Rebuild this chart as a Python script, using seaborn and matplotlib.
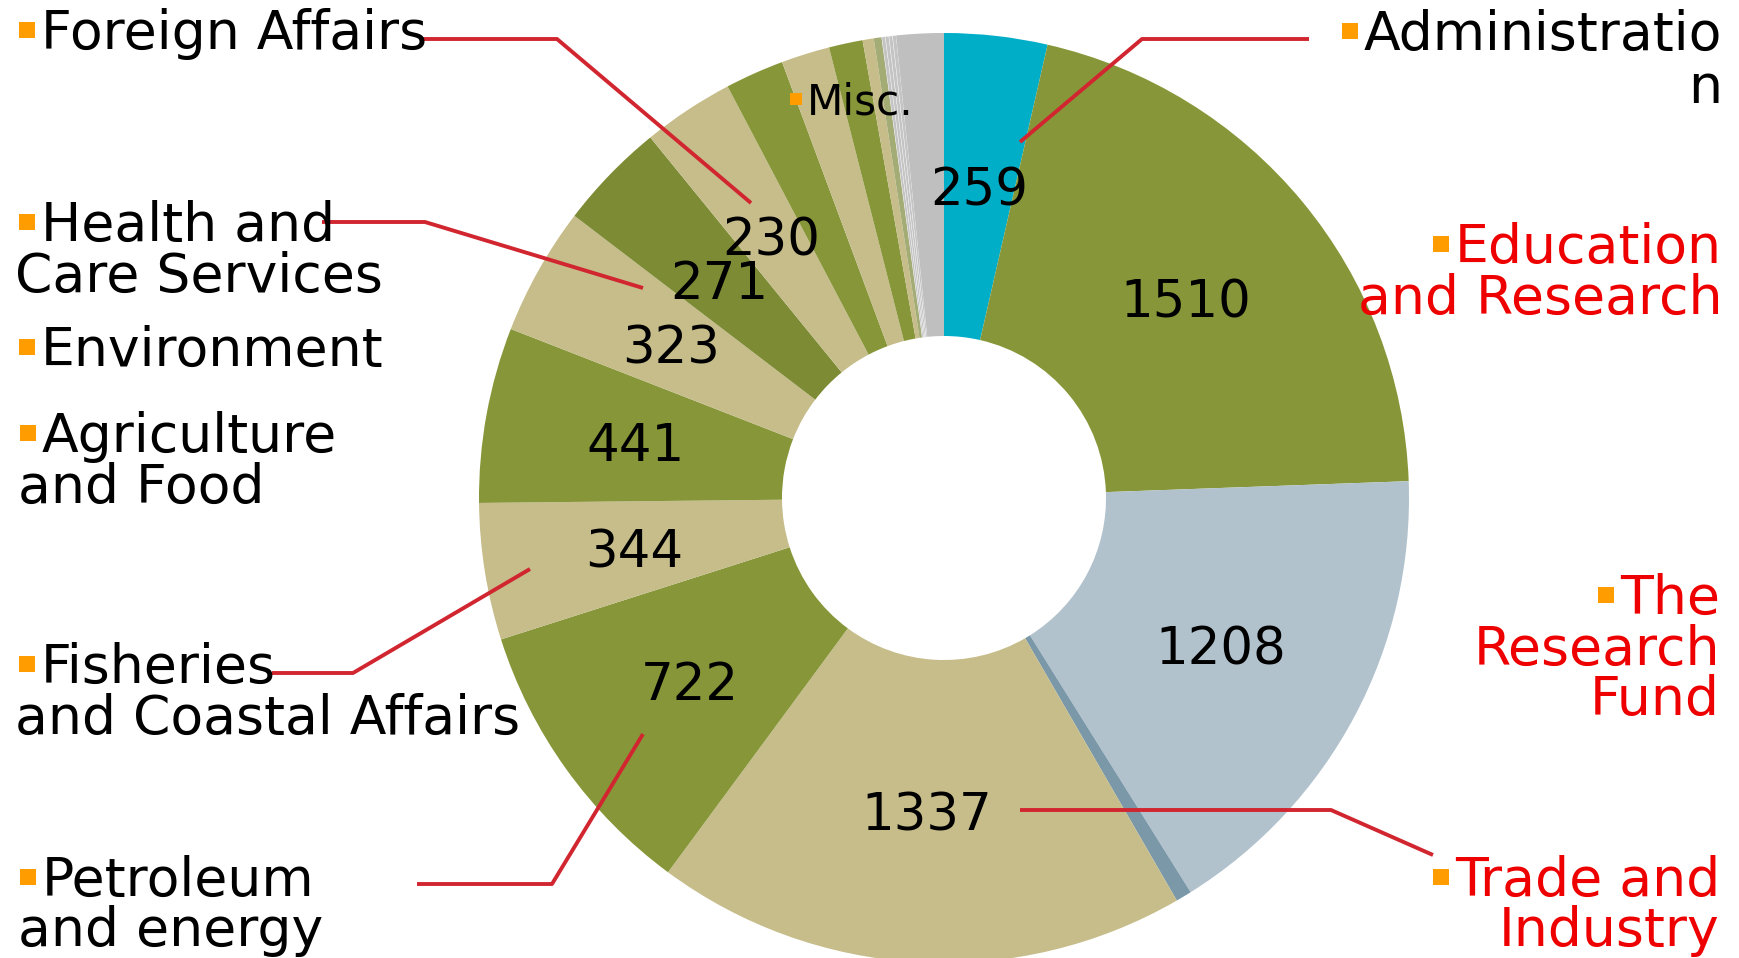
import matplotlib
matplotlib.use("Agg")
import matplotlib.pyplot as plt
import seaborn as sns

# slices, clockwise from 12 o'clock
values = [259, 1510, 1208, 40, 1337, 722, 344, 441, 323, 271, 230,
          148, 122, 85, 28, 20, 9, 9, 9, 9, 119]
value_labels = ["259", "1510", "1208", "", "1337", "722", "344", "441", "323", "271", "230",
                "", "", "", "", "", "", "", "", "", ""]
slice_colors = ["#00aec8", "#879638", "#b1c2cd", "#7b98a9", "#c6bd8a", "#879638", "#c6bd8a",
                "#879638", "#c6bd8a", "#7c8b34", "#c6bd8a", "#879638", "#c6bd8a", "#879638",
                "#c6bd8a", "#a4ac76", "#c4c4c4", "#c4c4c4", "#c4c4c4", "#c4c4c4", "#bfbfbf"]

W, H = 1739, 958
LEADER = "#d12630"
RED = "#ee0000"
BULLET = "#ff9c00"

sns.set_theme(style="white")
plt.rcParams['font.family'] = ['DejaVu Sans']

fig = plt.figure(figsize=(W / 100, H / 100), dpi=100)
ax = fig.add_axes([0, 0, 1, 1])

cx, cy, r_out, r_in = 944, H - 498, 465, 162
wedges, texts = ax.pie(values, colors=slice_colors, labels=value_labels,
                       startangle=90, counterclock=False,
                       radius=r_out, center=(cx, cy),
                       labeldistance=(r_out + r_in) / 2 / r_out,
                       wedgeprops=dict(width=r_out - r_in, linewidth=0),
                       textprops=dict(fontsize=37, color="black"))
for t in texts:
    t.set_ha("center")
    t.set_va("center_baseline")
for w in wedges[16:20]:
    w.set_edgecolor("#f4f4f4")
    w.set_linewidth(0.3)

ax.set_xlim(0, W)
ax.set_ylim(0, H)
ax.set_aspect("equal")
ax.axis("off")

# leader lines (pixel coords, y from top)
leaders = [
    [(421, 39), (557, 39), (751, 203)],      # Foreign Affairs
    [(1309, 39), (1142, 39), (1020, 142)],   # Administration
    [(322, 222), (425, 222), (643, 288)],    # Health and Care Services
    [(272, 673), (353, 673), (530, 569)],    # Fisheries and Coastal Affairs
    [(417, 884), (552, 884), (643, 734)],    # Petroleum and energy
    [(1020, 810), (1331, 810), (1433, 855)], # Trade and Industry
]
for pts in leaders:
    ax.plot([p[0] for p in pts], [H - p[1] for p in pts], color=LEADER, lw=2.8,
            solid_capstyle="butt")

# category labels: lines as (text, x, baseline y from top), alignment, colour, size
FS = 38.6
labels = [
    ([("Foreign Affairs", 41, 49)], "left", "black", FS),
    ([("Health and", 41, 241), ("Care Services", 15, 292)], "left", "black", FS),
    ([("Environment", 41, 366)], "left", "black", FS),
    ([("Agriculture", 42, 452), ("and Food", 18, 503)], "left", "black", FS),
    ([("Fisheries", 41, 683), ("and Coastal Affairs", 15, 734)], "left", "black", FS),
    ([("Petroleum", 42, 896), ("and energy", 18, 946)], "left", "black", FS),
    ([("Administratio", 1722, 50), ("n", 1722, 103)], "right", "black", FS),
    ([("Education", 1722, 263), ("and Research", 1722, 314)], "right", RED, FS),
    ([("The", 1720, 614), ("Research", 1720, 665), ("Fund", 1720, 715)], "right", RED, FS),
    ([("Trade and", 1720, 896), ("Industry", 1720, 946)], "right", RED, FS),
    ([("Misc.", 807, 114)], "left", "black", 30.3),
]

renderer = fig.canvas.get_renderer()
for lines, ha, col, fs in labels:
    first = None
    for txt, x, y in lines:
        t = ax.text(x, H - y, txt, ha=ha, va="baseline", fontsize=fs, color=col)
        if first is None:
            first = (t, y)
    t, y = first
    bb = t.get_window_extent(renderer)
    ax.plot(bb.x0 - 0.36 * fs, H - (y - 0.5 * fs), marker="s", ms=0.42 * fs * 0.72,
            color=BULLET, mew=0, linestyle="none")

fig.savefig("out.png", dpi=100)
